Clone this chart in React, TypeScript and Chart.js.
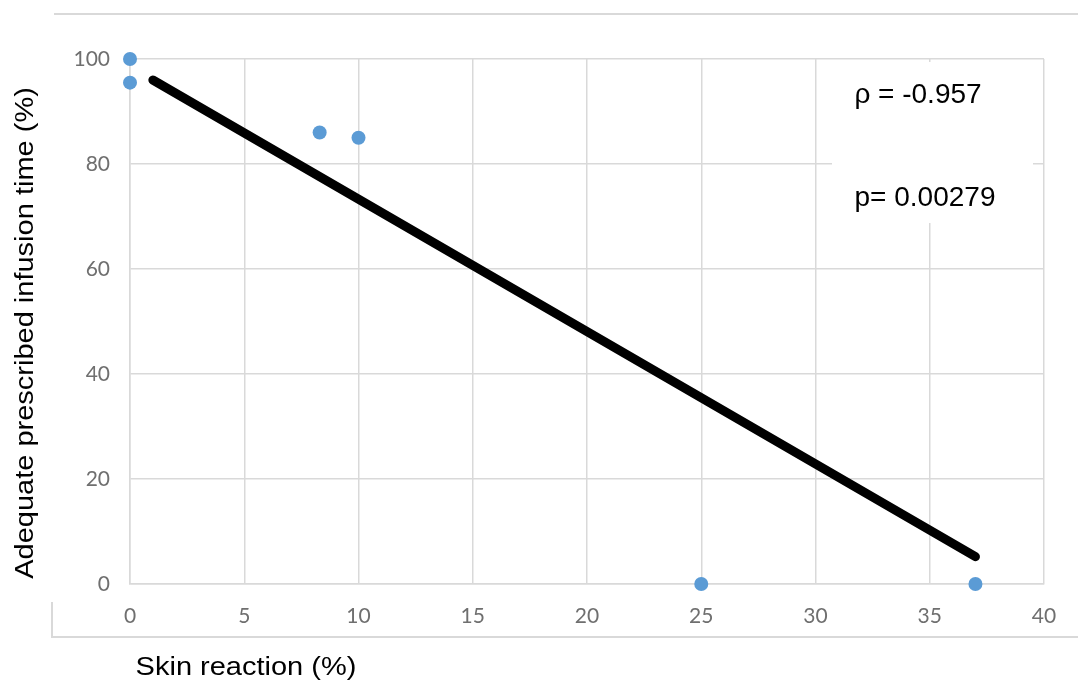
import React, { useEffect, useRef } from "react";
import { Chart, registerables } from "chart.js";

Chart.register(...registerables);

const xValues = [0, 0, 8.3, 10, 25, 37];
const yValues = [100, 95.5, 86, 85, 0, 0];
const trendX = [1, 37];
const trendY = [96, 5.2];
const xTickMax = 40;
const yTickMax = 100;
const xTitle = "Skin reaction (%)";
const yTitle = "Adequate prescribed infusion time (%)";
const rhoText = "ρ = -0.957";
const pText = "p= 0.00279";

const GRID = "#d9d9d9";
const TICK = "#6f6f6f";

const decorations = {
  id: "decorations",
  beforeDatasetsDraw(chart: any) {
    const ctx = chart.ctx;
    ctx.save();
    ctx.fillStyle = "#ffffff";
    ctx.fillRect(832, 62, 201, 161);
    ctx.restore();
  },
  afterDraw(chart: any) {
    const ctx = chart.ctx;
    ctx.save();
    ctx.strokeStyle = GRID;
    ctx.lineWidth = 2;
    ctx.beginPath();
    ctx.moveTo(54, 14);
    ctx.lineTo(1078, 14);
    ctx.moveTo(52, 602);
    ctx.lineTo(52, 637);
    ctx.lineTo(1078, 637);
    ctx.stroke();

    ctx.fillStyle = "#000000";
    ctx.font = "28px 'Liberation Sans', Arial, sans-serif";
    ctx.textAlign = "center";
    ctx.textBaseline = "alphabetic";
    ctx.fillText(rhoText, 918, 103);
    ctx.fillText(pText, 925, 206);

    ctx.font = "25px 'Liberation Sans', Arial, sans-serif";
    ctx.save();
    ctx.translate(246, 675);
    ctx.scale(1.16, 1);
    ctx.textAlign = "center";
    ctx.fillText(xTitle, 0, 0);
    ctx.restore();

    ctx.save();
    ctx.translate(33, 333);
    ctx.rotate(-Math.PI / 2);
    ctx.scale(1.16, 1);
    ctx.textAlign = "center";
    ctx.fillText(yTitle, 0, 0);
    ctx.restore();

    ctx.restore();
  },
};

export default function App() {
  const ref = useRef<HTMLCanvasElement>(null);

  useEffect(() => {
    if (!ref.current) return;
    const chart = new Chart(ref.current, {
      type: "scatter",
      data: {
        datasets: [
          {
            label: "Points",
            data: xValues.map((x, i) => ({ x, y: yValues[i] })),
            backgroundColor: "#5b9bd5",
            borderColor: "#5b9bd5",
            borderWidth: 0,
            pointRadius: 7,
            clip: false,
            order: 1,
          } as any,
          {
            label: "Trend",
            data: trendX.map((x, i) => ({ x, y: trendY[i] })),
            showLine: true,
            borderColor: "#000000",
            borderWidth: 9,
            borderCapStyle: "round",
            pointRadius: 0,
            clip: false,
            order: 2,
          } as any,
        ],
      },
      options: {
        responsive: false,
        animation: false,
        layout: { padding: { top: 59, right: 34, left: 0, bottom: 0 } },
        plugins: {
          legend: { display: false },
          tooltip: { enabled: false },
        },
        scales: {
          x: {
            type: "linear",
            min: 0,
            max: xTickMax,
            ticks: {
              stepSize: 5,
              color: TICK,
              font: { family: "Lato", size: 21 },
              padding: 20,
            },
            grid: { color: GRID, lineWidth: 1.5, drawTicks: false },
            border: { color: GRID, width: 1.5 },
            afterFit: (s: any) => {
              s.height = 96;
            },
          },
          y: {
            type: "linear",
            min: 0,
            max: yTickMax,
            ticks: {
              stepSize: 20,
              color: TICK,
              font: { family: "Lato", size: 21 },
              padding: 20,
            },
            grid: { color: GRID, lineWidth: 1.5, drawTicks: false },
            border: { color: GRID, width: 1.5 },
            afterFit: (s: any) => {
              s.width = 130;
            },
          },
        },
      },
      plugins: [decorations],
    });
    return () => chart.destroy();
  }, []);

  return (
    <div style={{ position: "absolute", left: 0, top: 0, width: 1078, height: 680, background: "#fff" }}>
      <canvas ref={ref} width={1078} height={680} style={{ width: 1078, height: 680 }} />
    </div>
  );
}
